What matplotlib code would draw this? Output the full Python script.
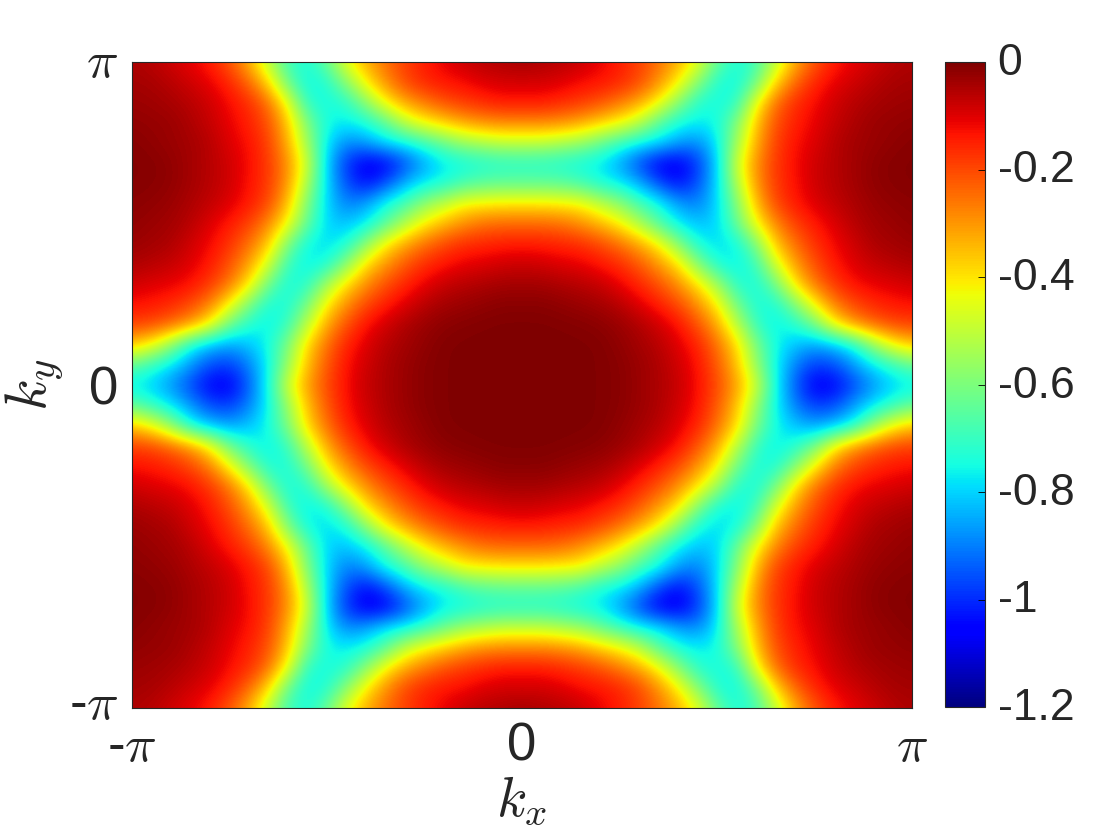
import numpy as np
import matplotlib
matplotlib.use("Agg")
import matplotlib.pyplot as plt
from matplotlib.transforms import ScaledTranslation

plt.rcParams['font.family'] = ['Liberation Sans', 'DejaVu Sans']
plt.rcParams['mathtext.fontset'] = 'cm'

# values read off the upper right quadrant, one row per ky (ky = 0 first, ky = pi last)
# each row goes from kx = 0 to kx = pi
quadrant = [
    [0, 0, 0, -.002, -.005, -.012, -.03, -.05, -.075, -.125, -.20, -.31, -.47, -.75, -.94, -1.07, -1.06, -.97, -.88, -.81, -.78],
    [0, 0, 0, -.002, -.005, -.012, -.03, -.05, -.085, -.13, -.22, -.35, -.56, -.76, -.90, -.98, -.96, -.87, -.78, -.71, -.64],
    [0, 0, -.002, -.003, -.005, -.02, -.04, -.06, -.10, -.15, -.25, -.38, -.60, -.75, -.82, -.86, -.83, -.75, -.57, -.43, -.36],
    [-.003, -.003, -.005, -.008, -.015, -.03, -.05, -.085, -.13, -.21, -.32, -.50, -.70, -.77, -.73, -.62, -.42, -.30, -.24, -.20, -.19],
    [-.012, -.012, -.02, -.03, -.04, -.06, -.10, -.145, -.20, -.29, -.41, -.61, -.74, -.74, -.60, -.42, -.27, -.20, -.16, -.14, -.13],
    [-.04, -.04, -.05, -.06, -.075, -.11, -.155, -.21, -.29, -.39, -.54, -.72, -.75, -.62, -.40, -.26, -.18, -.13, -.11, -.10, -.085],
    [-.08, -.085, -.10, -.11, -.135, -.165, -.22, -.30, -.39, -.58, -.74, -.77, -.70, -.47, -.31, -.21, -.14, -.10, -.075, -.06, -.05],
    [-.14, -.145, -.155, -.165, -.20, -.25, -.32, -.41, -.58, -.74, -.79, -.76, -.60, -.36, -.25, -.17, -.12, -.085, -.05, -.04, -.03],
    [-.24, -.24, -.25, -.29, -.34, -.41, -.52, -.66, -.77, -.82, -.80, -.64, -.43, -.28, -.19, -.14, -.10, -.06, -.04, -.03, -.02],
    [-.40, -.40, -.41, -.42, -.50, -.57, -.68, -.75, -.86, -.90, -.80, -.60, -.35, -.20, -.14, -.10, -.07, -.05, -.03, -.02, -.015],
    [-.64, -.64, -.65, -.68, -.74, -.77, -.84, -.96, -1.04, -.96, -.80, -.53, -.30, -.18, -.13, -.085, -.06, -.04, -.02, -.012, -.008],
    [-.73, -.73, -.74, -.76, -.78, -.86, -.97, -1.07, -1.08, -.99, -.81, -.48, -.29, -.18, -.125, -.085, -.06, -.04, -.02, -.01, -.008],
    [-.50, -.50, -.53, -.56, -.63, -.70, -.76, -.79, -.86, -.89, -.78, -.55, -.33, -.19, -.13, -.10, -.06, -.04, -.03, -.02, -.01],
    [-.28, -.28, -.29, -.32, -.37, -.42, -.50, -.65, -.74, -.77, -.75, -.60, -.36, -.21, -.15, -.11, -.075, -.05, -.03, -.025, -.02],
    [-.14, -.14, -.16, -.18, -.21, -.26, -.32, -.42, -.58, -.72, -.75, -.72, -.44, -.25, -.165, -.125, -.085, -.06, -.045, -.035, -.03],
    [-.09, -.09, -.10, -.125, -.135, -.155, -.20, -.29, -.41, -.58, -.73, -.76, -.63, -.38, -.24, -.155, -.11, -.085, -.06, -.045, -.04],
    [-.04, -.05, -.06, -.075, -.11, -.145, -.19, -.25, -.33, -.44, -.63, -.74, -.69, -.51, -.33, -.22, -.145, -.11, -.085, -.06, -.05],
]

cbar_ticks = [0, -0.2, -0.4, -0.6, -0.8, -1, -1.2]
cbar_labels = ['0', '-0.2', '-0.4', '-0.6', '-0.8', '-1', '-1.2']
k_ticks = [-np.pi, 0, np.pi]
k_labels = [r'-$\pi$', '0', r'$\pi$']

# the map is mirrored in kx and ky, so the other quadrants come from the first one
q = np.array(quadrant)
top = np.hstack([q[:, :0:-1], q])
field = np.vstack([top[:0:-1], top])

W, H = 1120, 840
fig = plt.figure(figsize=(W / 100, H / 100), dpi=100)
ax = fig.add_axes([132 / W, 1 - 708 / H, 780 / W, 646 / H])

nrow, ncol = field.shape
dx = 2 * np.pi / (ncol - 1)
dy = 2 * np.pi / (nrow - 1)
im = ax.imshow(field, cmap='jet', vmin=-1.2, vmax=0, origin='lower', aspect='auto',
               interpolation='bicubic',
               extent=[-np.pi - dx / 2, np.pi + dx / 2, -np.pi - dy / 2, np.pi + dy / 2])
ax.set_xlim(-np.pi, np.pi)
ax.set_ylim(-np.pi, np.pi)

ax.set_xticks(k_ticks)
ax.set_xticklabels(k_labels)
ax.set_yticks(k_ticks)
ax.set_yticklabels(k_labels)
ax.tick_params(length=0, labelsize=38, labelcolor='#262626')
ax.tick_params(axis='x', pad=10)
ax.tick_params(axis='y', pad=10)
ax.set_xlabel(r'$k_x$', fontsize=40, color='#262626', labelpad=2)
ax.set_ylabel(r'$k_y$', fontsize=42, color='#262626', labelpad=2)
for s in ax.spines.values():
    s.set_linewidth(0.8)
    s.set_color('#262626')


def shift(label, px_x, px_y):
    # small nudge in pixels, the labels do not sit exactly on the tick
    label.set_transform(label.get_transform() + ScaledTranslation(px_x / 100, px_y / 100, fig.dpi_scale_trans))


ylab = ax.get_yticklabels()
shift(ylab[0], 0, 9)
shift(ylab[2], 0, 4)

cax = fig.add_axes([945 / W, 1 - 707 / H, 40 / W, 645 / H])
cb = fig.colorbar(im, cax=cax)
cb.set_ticks(cbar_ticks)
cb.set_ticklabels(cbar_labels)
cb.ax.tick_params(direction='in', length=5, width=0.6, labelsize=32, labelcolor='#262626', pad=9)
cb.outline.set_linewidth(0.8)
cb.outline.set_edgecolor('#262626')
for lab in cb.ax.get_yticklabels():
    shift(lab, 0, 3)

fig.savefig('out.png', dpi=100)
